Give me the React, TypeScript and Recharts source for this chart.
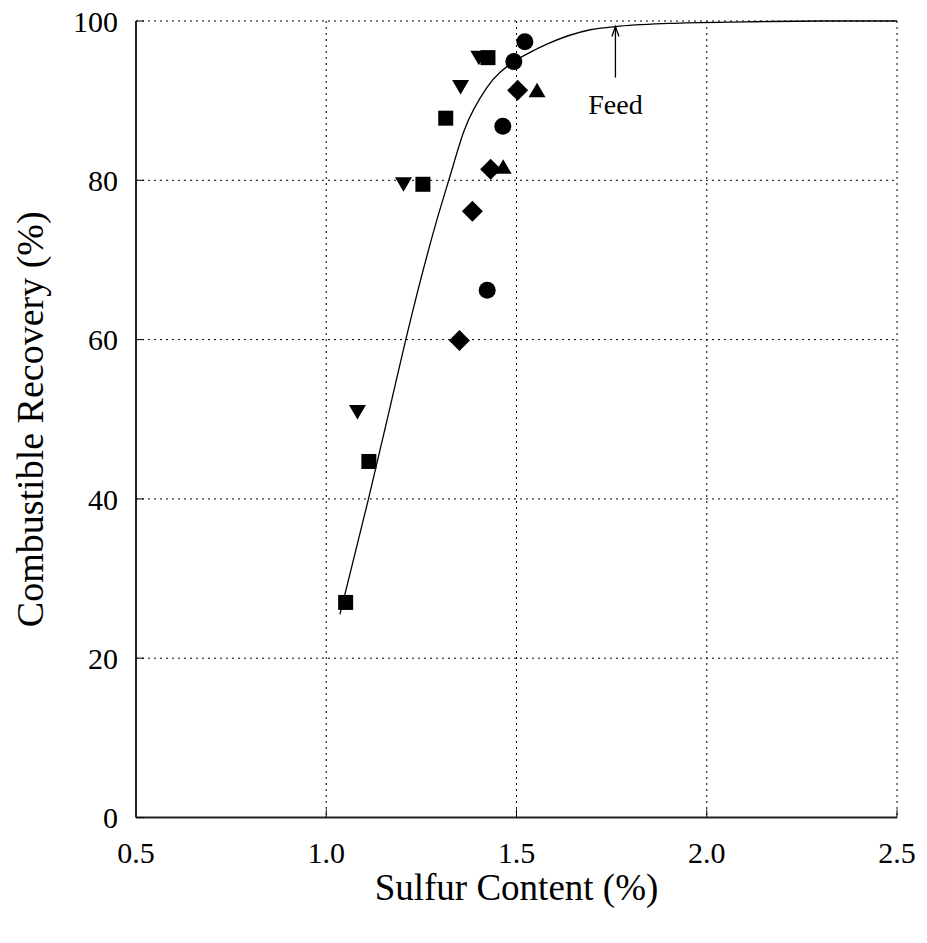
import { ComposedChart, Scatter, Line, XAxis, YAxis, CartesianGrid, ReferenceLine, ReferenceDot, Label } from "recharts";

const xTicks = [0.5, 1.0, 1.5, 2.0, 2.5];
const yTicks = [0, 20, 40, 60, 80, 100];

// fitted curve
const curveX = [1.036, 1.111, 1.172, 1.209, 1.29, 1.322, 1.362, 1.423, 1.493, 1.537, 1.58, 1.694, 1.76, 1.9, 2.1, 2.3, 2.5];
const curveY = [25.5, 40.0, 52.4, 60.0, 74.9, 80.0, 86.2, 91.7, 94.9, 96.1, 97.1, 98.9, 99.3, 99.7, 99.9, 100, 100];

const squareX = [1.051, 1.112, 1.254, 1.314, 1.425];
const squareY = [27.0, 44.7, 79.5, 87.8, 95.4];

const downX = [1.082, 1.203, 1.353, 1.401];
const downY = [50.9, 79.5, 91.7, 95.4];

const circleX = [1.423, 1.464, 1.493, 1.522];
const circleY = [66.2, 86.8, 94.9, 97.4];

const diamondX = [1.35, 1.384, 1.432, 1.503];
const diamondY = [59.9, 76.1, 81.4, 91.3];

const upX = [1.465, 1.554];
const upY = [81.7, 91.3];

const feedX = 1.76;
const feedTip = 99.3;
const feedTail = 92.9;
const feedTextY = 89.5;

const pts = (xs: number[], ys: number[]) => xs.map((x, i) => ({ x, y: ys[i] }));

const FONT = '"Liberation Serif", "Times New Roman", serif';

type P = { cx?: number; cy?: number };

const CircleMark = ({ cx = 0, cy = 0 }: P) => <circle cx={cx} cy={cy} r={8.5} fill="#000" />;
const SquareMark = ({ cx = 0, cy = 0 }: P) => <rect x={cx - 7.5} y={cy - 7.5} width={15} height={15} fill="#000" />;
const DiamondMark = ({ cx = 0, cy = 0 }: P) => (
  <path d={`M${cx},${cy - 10.5}L${cx + 10.5},${cy}L${cx},${cy + 10.5}L${cx - 10.5},${cy}Z`} fill="#000" />
);
const UpMark = ({ cx = 0, cy = 0 }: P) => (
  <path d={`M${cx - 8.5},${cy + 7}L${cx + 8.5},${cy + 7}L${cx},${cy - 7.5}Z`} fill="#000" />
);
const DownMark = ({ cx = 0, cy = 0 }: P) => (
  <path d={`M${cx - 8.5},${cy - 7}L${cx + 8.5},${cy - 7}L${cx},${cy + 7.5}Z`} fill="#000" />
);

const tickStyle = { fontFamily: FONT, fontSize: 30, fill: "#000" };

const axisLine = { stroke: "#222", strokeWidth: 2 };
const tickLine = { stroke: "#000", strokeWidth: 1 };

export default function App() {
  return (
    <div style={{ position: "absolute", left: 0, top: 0, background: "#fff", fontFamily: FONT }}>
      <ComposedChart width={927} height={943} margin={{ top: 21, right: 30, left: 36, bottom: 45.5 }}>
        <CartesianGrid stroke="#000" strokeDasharray="2 4" strokeWidth={1} />
        <XAxis
          type="number"
          dataKey="x"
          domain={[0.5, 2.5]}
          ticks={xTicks}
          tickFormatter={(v: number) => v.toFixed(1)}
          allowDataOverflow
          height={80}
          axisLine={axisLine}
          tickLine={tickLine}
          tickSize={-8}
          tickMargin={32}
          tick={tickStyle}
        >
          <Label
            content={({ viewBox }: any) => (
              <text
                x={viewBox.x + viewBox.width / 2}
                y={900}
                textAnchor="middle"
                fontFamily={FONT}
                fontSize={37}
                fill="#000"
              >
                Sulfur Content (%)
              </text>
            )}
          />
        </XAxis>
        <XAxis
          xAxisId="top"
          orientation="top"
          type="number"
          dataKey="x"
          domain={[0.5, 2.5]}
          ticks={xTicks}
          height={0}
          axisLine={axisLine}
          tickLine={tickLine}
          tickSize={-8}
          tick={false}
        />
        <YAxis
          type="number"
          domain={[0, 100]}
          ticks={yTicks}
          width={100}
          axisLine={axisLine}
          tickLine={tickLine}
          tickSize={-8}
          tickMargin={26}
          tick={tickStyle}
        >
          <Label
            content={({ viewBox }: any) => {
              const cx = 30;
              const cy = viewBox.y + viewBox.height / 2;
              return (
                <text
                  x={cx}
                  y={cy}
                  transform={`rotate(-90, ${cx}, ${cy})`}
                  textAnchor="middle"
                  dy="0.35em"
                  fontFamily={FONT}
                  fontSize={38}
                  fill="#000"
                >
                  Combustible Recovery (%)
                </text>
              );
            }}
          />
        </YAxis>
        <YAxis
          yAxisId="right"
          orientation="right"
          type="number"
          domain={[0, 100]}
          ticks={yTicks}
          width={0}
          axisLine={axisLine}
          tickLine={tickLine}
          tickSize={-8}
          tick={false}
        />

        <Line
          data={pts(curveX, curveY)}
          dataKey="y"
          type="monotone"
          stroke="#000"
          strokeWidth={1.3}
          dot={false}
          activeDot={false}
          isAnimationActive={false}
        />

        <Scatter data={pts(squareX, squareY)} dataKey="y" shape={SquareMark} isAnimationActive={false} />
        <Scatter data={pts(downX, downY)} dataKey="y" shape={DownMark} isAnimationActive={false} />
        <Scatter data={pts(circleX, circleY)} dataKey="y" shape={CircleMark} isAnimationActive={false} />
        <Scatter data={pts(diamondX, diamondY)} dataKey="y" shape={DiamondMark} isAnimationActive={false} />
        <Scatter data={pts(upX, upY)} dataKey="y" shape={UpMark} isAnimationActive={false} />

        <ReferenceLine
          segment={[
            { x: feedX, y: feedTail },
            { x: feedX, y: feedTip },
          ]}
          stroke="#000"
          strokeWidth={1.3}
        />
        <ReferenceDot
          x={feedX}
          y={feedTip}
          shape={({ cx, cy }: any) => (
            <path d={`M${cx - 3.5},${cy + 10}L${cx},${cy}L${cx + 3.5},${cy + 10}`} stroke="#000" strokeWidth={1.3} fill="none" />
          )}
        />
        <ReferenceDot
          x={feedX}
          y={feedTextY}
          shape={({ cx, cy }: any) => (
            <text x={cx} y={cy} dy="0.35em" textAnchor="middle" fontFamily={FONT} fontSize={28} fill="#000">
              Feed
            </text>
          )}
        />
      </ComposedChart>
    </div>
  );
}
